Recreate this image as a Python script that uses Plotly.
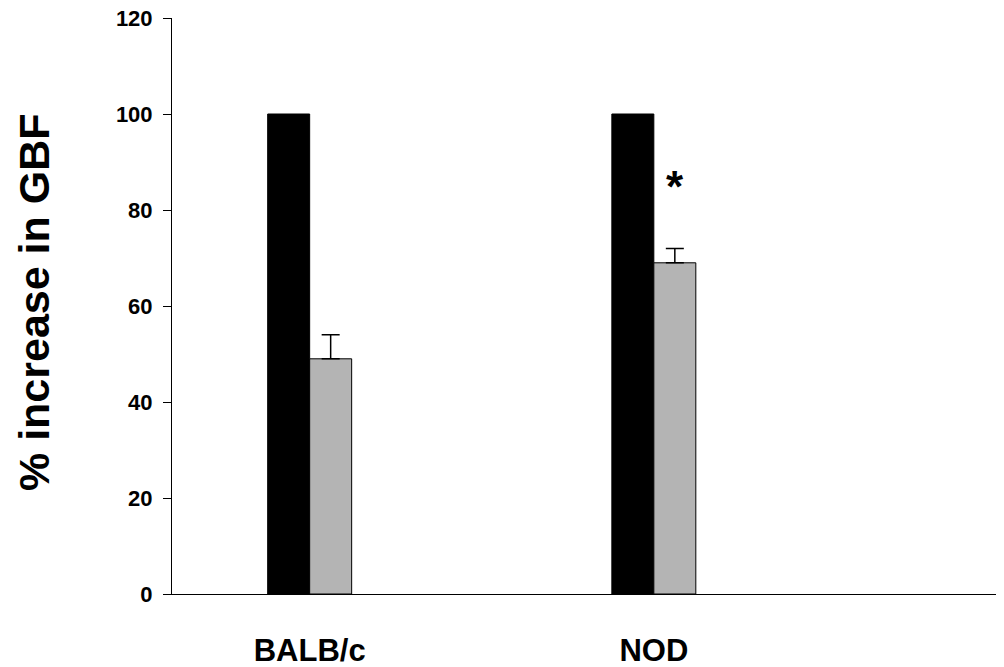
import plotly.graph_objects as go

# data
groups = ["BALB/c", "NOD"]
group_pos = [0, 1]
control_vals = [100, 100]
treated_vals = [49, 69]
treated_err = [5, 3]
sig_marks = ["", "*"]
y_ticks = [0, 20, 40, 60, 80, 100, 120]

FONT = "Arial, Liberation Sans, sans-serif"
bw = 0.122

fig = go.Figure()
fig.add_trace(go.Bar(
    x=group_pos, y=control_vals, width=bw, offset=-bw,
    marker=dict(color="black", line=dict(color="black", width=1)),
    showlegend=False,
))
fig.add_trace(go.Bar(
    x=group_pos, y=treated_vals, width=bw, offset=0,
    marker=dict(color="#b4b4b4", line=dict(color="black", width=1)),
    error_y=dict(type="data", array=treated_err, arrayminus=[0, 0],
                 symmetric=False, color="black", thickness=1.5, width=9),
    showlegend=False,
))

for pos, val, err, mark in zip(group_pos, treated_vals, treated_err, sig_marks):
    if mark:
        fig.add_annotation(x=pos + bw / 2, y=val + err + 13, text="<b>%s</b>" % mark,
                           showarrow=False, font=dict(family=FONT, size=44, color="black"))

# y axis title as a rotated annotation so it sits far out in the margin
fig.add_annotation(xref="paper", yref="paper", x=-0.167, y=0.507,
                   text="<b>% increase in GBF</b>", textangle=-90, showarrow=False,
                   xanchor="center", yanchor="middle", borderpad=0,
                   font=dict(family=FONT, size=43, color="black"))

# margins allow for the page's default 8px body margin
fig.update_layout(
    width=1004, height=667,
    margin=dict(l=164, r=14, t=10, b=81),
    paper_bgcolor="white", plot_bgcolor="white",
    font=dict(family=FONT, color="black"),
    xaxis=dict(
        range=[-0.4, 2.0], tickvals=group_pos,
        ticktext=["<b>%s</b>" % g for g in groups],
        ticks="", showgrid=False, zeroline=False, automargin=False,
        showline=True, linecolor="black", linewidth=1,
        tickfont=dict(size=31), ticklabelstandoff=29,
        ticklabeloverflow="allow",
    ),
    yaxis=dict(
        range=[0, 120], tickvals=y_ticks,
        ticktext=["<b>%d</b>" % v for v in y_ticks],
        ticks="outside", ticklen=8, tickcolor="black", tickwidth=1,
        showgrid=False, zeroline=False, automargin=False,
        showline=True, linecolor="black", linewidth=1,
        tickfont=dict(size=22), ticklabelstandoff=6,
        ticklabeloverflow="allow",
    ),
)

fig.write_html("out.html")
